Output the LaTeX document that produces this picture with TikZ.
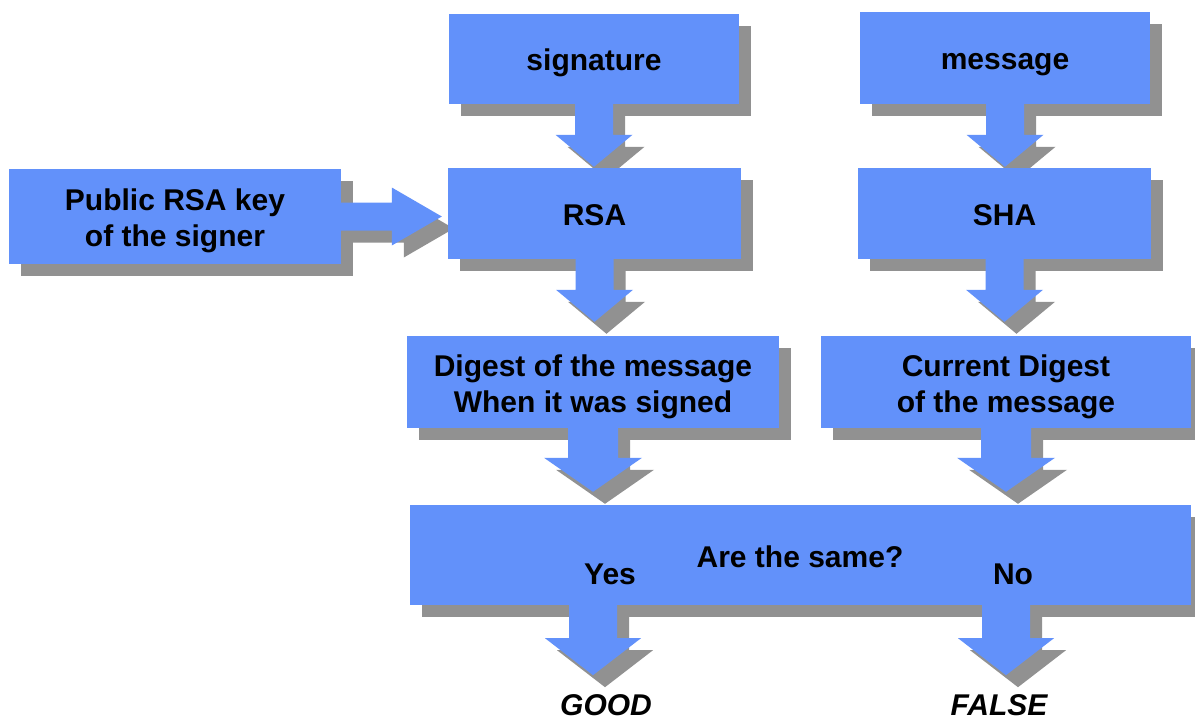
\documentclass[tikz,border=0pt]{standalone}
\usepackage{fontspec}
\setmainfont{Liberation Sans}
\usetikzlibrary{calc,shadows}
\definecolor{boxblue}{RGB}{98,145,250}
\definecolor{shadowgray}{RGB}{145,145,145}
\pgfdeclarelayer{bg}
\pgfsetlayers{bg,main}
% vertical block arrow: #1 start, #2 tip, #3 stem half width, #4 head half width, #5 head length, #6 dx, #7 dy, #8 colour
\newcommand\vblock[8]{%
  \fill[#8] let \p1=#1, \p2=#2 in
    (\x1-#3pt+#6pt,\y1-#7pt) -- (\x1+#3pt+#6pt,\y1-#7pt) -- (\x1+#3pt+#6pt,\y2+#5pt-#7pt)
    -- (\x1+#4pt+#6pt,\y2+#5pt-#7pt) -- (\x1+#6pt,\y2-#7pt) -- (\x1-#4pt+#6pt,\y2+#5pt-#7pt)
    -- (\x1-#3pt+#6pt,\y2+#5pt-#7pt) -- cycle;}
\newcommand\varrow[5]{%
  \begin{pgfonlayer}{bg}\vblock{#1}{#2}{#3}{#4}{#5}{12}{12}{shadowgray}\end{pgfonlayer}
  \vblock{#1}{#2}{#3}{#4}{#5}{0}{0}{boxblue}}
% horizontal block arrow
\newcommand\hblock[8]{%
  \fill[#8] let \p1=#1, \p2=#2 in
    (\x1+#6pt,\y1+#3pt-#7pt) -- (\x1+#6pt,\y1-#3pt-#7pt) -- (\x2-#5pt+#6pt,\y1-#3pt-#7pt)
    -- (\x2-#5pt+#6pt,\y1-#4pt-#7pt) -- (\x2+#6pt,\y1-#7pt) -- (\x2-#5pt+#6pt,\y1+#4pt-#7pt)
    -- (\x2-#5pt+#6pt,\y1+#3pt-#7pt) -- cycle;}
\newcommand\harrow[5]{%
  \begin{pgfonlayer}{bg}\hblock{#1}{#2}{#3}{#4}{#5}{12}{12}{shadowgray}\end{pgfonlayer}
  \hblock{#1}{#2}{#3}{#4}{#5}{0}{0}{boxblue}}
\tikzset{
  lbl/.style={font=\fontsize{30}{36}\selectfont\bfseries, text=black, align=center, inner sep=0pt},
  box/.style={lbl, rectangle, fill=boxblue,
    drop shadow={shadow xshift=12pt, shadow yshift=-12pt, fill=shadowgray, opacity=1}},
  oneline/.style={text height=23pt, text depth=0pt},
  twoline/.style={text height=60pt, text depth=0pt},
}
\begin{document}
\begin{tikzpicture}[x=1pt,y=-1pt]
\useasboundingbox (0,0) rectangle (1195,720);
\node[box, twoline, minimum width=332, minimum height=95] (key) at (175,216.5) {Public RSA key\\of the signer};
\node[box, oneline, minimum width=290, minimum height=90] (sig) at (594,59) {signature};
\node[box, oneline, minimum width=293, minimum height=91] (rsa) at (594.5,213.5) {RSA};
\node[box, oneline, minimum width=290, minimum height=92] (msg) at (1005,58) {message};
\node[box, oneline, minimum width=293, minimum height=91] (sha) at (1004.5,213.5) {SHA};
\node[box, twoline, minimum width=372, minimum height=92] (dig) at (593,382) {Digest of the message\\When it was signed};
\node[box, twoline, minimum width=370, minimum height=92] (cur) at (1006,382) {Current Digest\\of the message};
\node[box, minimum width=781, minimum height=100] (same) at (800.5,555) {};
\node[lbl] (q) at (800,557) {Are the same?};
\node[lbl] (yes) at (610,574) {Yes};
\node[lbl] (no) at (1013,574) {No};
\node[lbl, font=\fontsize{30}{36}\selectfont\bfseries\itshape] (good) at (606,705) {GOOD};
\node[lbl, font=\fontsize{30}{36}\selectfont\bfseries\itshape] (false) at (999,705) {FALSE};

\harrow{(key.east)}{($(rsa.west)+(-6,0)$)}{14}{29}{50}
\varrow{(sig.south)}{($(rsa.north)+(0,-1)$)}{19}{38.5}{32}
\varrow{(msg.south)}{($(sha.north)+(0,-1)$)}{19}{38.5}{32}
\varrow{(rsa.south)}{($(dig.north)+(0,-14)$)}{19}{38.5}{32}
\varrow{(sha.south)}{($(cur.north)+(0,-14)$)}{19}{38.5}{32}
\varrow{(dig.south)}{($(same.north)+(0,-13)$)}{25}{49}{34}
\varrow{(cur.south)}{($(same.north)+(0,-13)$)}{25}{49}{34}
\varrow{(same.south -| dig.south)}{($(same.south)+(0,70)$)}{24}{48}{37}
\varrow{(same.south -| cur.south)}{($(same.south)+(0,70)$)}{24}{48}{37}
\end{tikzpicture}
\end{document}
